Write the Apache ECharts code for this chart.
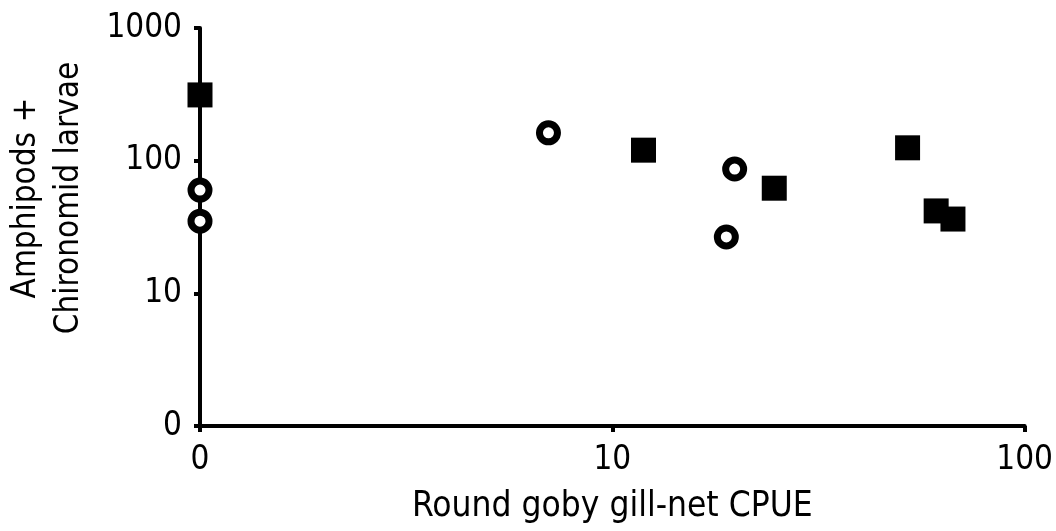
<!DOCTYPE html>
<html>
<head>
<meta charset="utf-8">
<script src="https://cdn.jsdelivr.net/npm/echarts@6/dist/echarts.min.js"></script>
<style>
  html, body { margin: 0; padding: 0; background: #fff; }
  #chart { width: 1056px; height: 531px; }
</style>
</head>
<body>
<div id="chart"></div>
<script>
// values; "0" on the axes is drawn at 1 (log scale)
var squareX = [1, 11.9, 24.7, 52, 61, 67];
var squareY = [313, 120, 62, 125, 41.8, 36.3];
var circleX = [1, 1, 7.0, 19.8, 18.9];
var circleY = [60, 35, 162, 86.5, 26.6];
var xTicks = [1, 10, 100];
var yTicks = [1, 10, 100, 1000];

var fontFamily = '"DejaVu Sans Condensed", "DejaVu Sans", sans-serif';
var fontSize = 33;

function pairs(xs, ys) {
    return xs.map(function (x, i) { return [x, ys[i]]; });
}

function tickLabel(v) {
    return Math.abs(v - 1) < 1e-9 ? '0' : String(Math.round(v));
}

var axisCommon = {
    type: 'log',
    logBase: 10,
    axisLine: { show: true, lineStyle: { color: '#000', width: 4 } },
    axisTick: { show: true, length: 6, lineStyle: { color: '#000', width: 4 } },
    splitLine: { show: false },
    axisLabel: {
        color: '#000',
        fontSize: fontSize,
        fontFamily: fontFamily,
        formatter: tickLabel
    }
};

var option = {
    animation: false,
    backgroundColor: '#fff',
    grid: { left: 200, right: 25, top: 28, bottom: 105 },
    xAxis: Object.assign({}, axisCommon, {
        min: xTicks[0],
        max: xTicks[xTicks.length - 1],
        name: 'Round goby gill-net CPUE',
        nameLocation: 'middle',
        nameGap: 63,
        nameTextStyle: { color: '#000', fontSize: 35, fontFamily: fontFamily },
        axisLabel: Object.assign({}, axisCommon.axisLabel, { margin: 18 })
    }),
    yAxis: Object.assign({}, axisCommon, {
        min: yTicks[0],
        max: yTicks[yTicks.length - 1],
        axisLabel: Object.assign({}, axisCommon.axisLabel, { margin: 18 })
    }),
    graphic: [{
        type: 'text',
        x: 48,
        y: 198,
        rotation: Math.PI / 2,
        style: {
            text: 'Amphipods +\nChironomid larvae',
            fill: '#000',
            font: fontSize + 'px ' + fontFamily,
            align: 'center',
            verticalAlign: 'middle',
            lineHeight: 43
        }
    }],
    series: [
        {
            type: 'scatter',
            clip: false,
            symbol: 'rect',
            symbolSize: 25,
            itemStyle: { color: '#000', opacity: 1 },
            data: pairs(squareX, squareY)
        },
        {
            type: 'scatter',
            clip: false,
            symbol: 'circle',
            symbolSize: 18,
            itemStyle: { color: '#fff', borderColor: '#000', borderWidth: 7, opacity: 1 },
            data: pairs(circleX, circleY)
        }
    ]
};

var myChart = echarts.init(document.getElementById('chart'));
myChart.setOption(option);
</script>
</body>
</html>
